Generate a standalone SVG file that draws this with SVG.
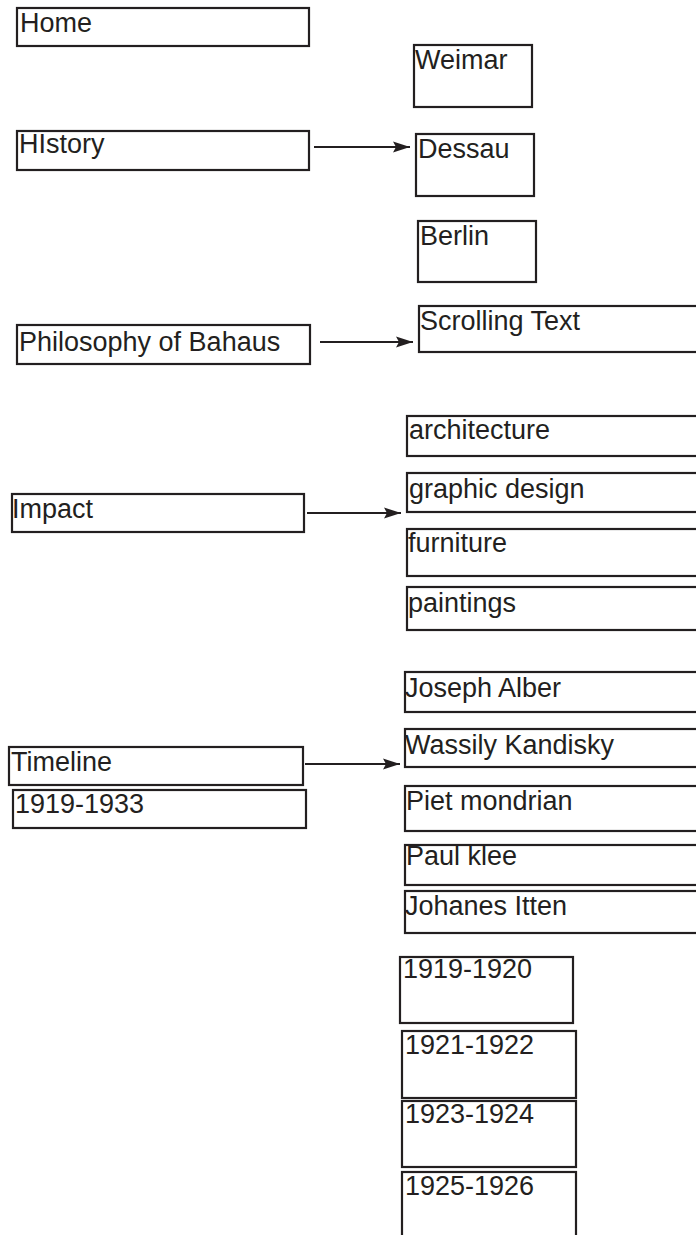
<svg xmlns="http://www.w3.org/2000/svg" width="696" height="1235" viewBox="0 0 696 1235">
<style>
.box{fill:#fff;stroke:#231f20;stroke-width:2.2}
.lbl{font-family:"Liberation Sans",Arial,sans-serif;font-size:27px;fill:#231f20}
.conn{stroke:#231f20;stroke-width:2;fill:none}
</style>
<defs>
<marker id="ah" markerUnits="userSpaceOnUse" markerWidth="18" markerHeight="12" refX="17" refY="6" orient="auto">
<path d="M0,0.5 L17,6 L0,11.5 L3,6 Z" fill="#231f20"/>
</marker>
</defs>
<rect width="696" height="1235" fill="#fff"/>
<g id="connectors">
<line class="conn" x1="314" y1="147" x2="410" y2="147" marker-end="url(#ah)"/>
<line class="conn" x1="320" y1="342" x2="413" y2="342" marker-end="url(#ah)"/>
<line class="conn" x1="307" y1="513" x2="401" y2="513" marker-end="url(#ah)"/>
<line class="conn" x1="305" y1="764" x2="400" y2="764" marker-end="url(#ah)"/>
</g>
<g id="home"><rect class="box" x="17" y="8" width="292" height="38"/><text class="lbl" x="20" y="32">Home</text></g>
<g id="history"><rect class="box" x="17" y="131" width="292" height="39"/><text class="lbl" x="19" y="153">HIstory</text></g>
<g id="weimar"><rect class="box" x="414" y="45" width="118" height="62"/><text class="lbl" x="415" y="69">Weimar</text></g>
<g id="dessau"><rect class="box" x="416" y="134" width="118" height="62"/><text class="lbl" x="418" y="158">Dessau</text></g>
<g id="berlin"><rect class="box" x="418" y="221" width="118" height="61"/><text class="lbl" x="420" y="245">Berlin</text></g>
<g id="philosophy"><rect class="box" x="17" y="325" width="293" height="39"/><text class="lbl" x="19" y="351">Philosophy of Bahaus</text></g>
<g id="scrolling"><rect class="box" x="419" y="306" width="290" height="46"/><text class="lbl" x="420" y="330">Scrolling Text</text></g>
<g id="architecture"><rect class="box" x="407" y="416" width="300" height="40"/><text class="lbl" x="409" y="439">architecture</text></g>
<g id="impact"><rect class="box" x="12" y="494" width="292" height="38"/><text class="lbl" x="12" y="518">Impact</text></g>
<g id="graphic"><rect class="box" x="407" y="473" width="300" height="39"/><text class="lbl" x="409" y="498">graphic design</text></g>
<g id="furniture"><rect class="box" x="407" y="529" width="300" height="47"/><text class="lbl" x="408" y="552">furniture</text></g>
<g id="paintings"><rect class="box" x="407" y="587" width="300" height="43"/><text class="lbl" x="408" y="612">paintings</text></g>
<g id="timeline"><rect class="box" x="9" y="747" width="294" height="38"/><text class="lbl" x="11" y="771">Timeline</text></g>
<g id="range"><rect class="box" x="13" y="790" width="293" height="38"/><text class="lbl" x="15" y="813">1919-1933</text></g>
<g id="albers"><rect class="box" x="405" y="672" width="300" height="40"/><text class="lbl" x="405" y="697">Joseph Alber</text></g>
<g id="kandinsky"><rect class="box" x="405" y="729" width="300" height="38"/><text class="lbl" x="405" y="754">Wassily Kandisky</text></g>
<g id="mondrian"><rect class="box" x="405" y="786" width="300" height="45"/><text class="lbl" x="406" y="810">Piet mondrian</text></g>
<g id="klee"><rect class="box" x="405" y="845" width="300" height="40"/><text class="lbl" x="406" y="865">Paul klee</text></g>
<g id="itten"><rect class="box" x="405" y="891" width="300" height="42"/><text class="lbl" x="405" y="915">Johanes Itten</text></g>
<g id="y1919"><rect class="box" x="400" y="957" width="173" height="66"/><text class="lbl" x="403" y="978">1919-1920</text></g>
<g id="y1921"><rect class="box" x="402" y="1031" width="174" height="67"/><text class="lbl" x="405" y="1054">1921-1922</text></g>
<g id="y1923"><rect class="box" x="402" y="1101" width="174" height="66"/><text class="lbl" x="405" y="1123">1923-1924</text></g>
<g id="y1925"><rect class="box" x="402" y="1172" width="174" height="80"/><text class="lbl" x="405" y="1195">1925-1926</text></g>
</svg>
